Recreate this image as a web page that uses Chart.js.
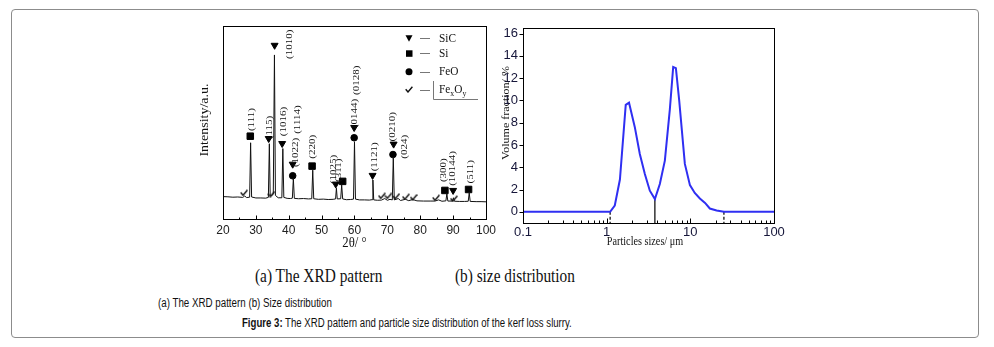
<!DOCTYPE html>
<html>
<head>
<meta charset="utf-8">
<script src="https://cdn.jsdelivr.net/npm/chart.js@4.4.1/dist/chart.umd.min.js"></script>
<style>
html, body { margin: 0; padding: 0; background: #fff; }
body { width: 994px; height: 347px; position: relative; overflow: hidden; }
#frame { position: absolute; left: 11px; top: 9px; width: 966px; height: 327px; border: 1px solid #8c8c8c; border-radius: 4px; }
canvas { position: absolute; }
#xrd { left: 190px; top: 10px; }
#psd { left: 495px; top: 10px; }
.cap { position: absolute; white-space: nowrap; line-height: 1; transform-origin: 0 50%; color: #111; }
.serif { font-family: 'Liberation Serif', serif; font-size: 19px; }
.sans { font-family: 'Liberation Sans', Arial, sans-serif; font-size: 12px; }
</style>
</head>
<body>
<div id="frame"></div>
<canvas id="xrd" width="310" height="240"></canvas>
<canvas id="psd" width="295" height="240"></canvas>
<div class="cap serif" id="capA">(a) The XRD pattern</div>
<div class="cap serif" id="capB">(b) size distribution</div>
<div class="cap sans" id="capSub">(a) The XRD pattern (b) Size distribution</div>
<div class="cap sans" id="capFig"><b>Figure 3:</b> The XRD pattern and particle size distribution of the kerf loss slurry.</div>

<script>
// ---- (a) XRD pattern ----
const twoTheta = [20, 21.5, 23, 24.5, 26, 26.6, 27.2, 28.1, 28.4, 28.7, 30, 31.5, 33, 33.8, 34.1, 34.35, 34.8, 35.3, 35.65, 35.95,
  36.8, 37.9, 38.2, 38.5, 39.5, 40.5, 41.1, 41.4, 41.7, 43, 44.5, 46, 47.0, 47.3, 47.6, 49, 50.5, 52, 53.5, 54.25, 54.5, 54.75,
  55.8, 56.1, 56.4, 57.5, 58.8, 59.7, 60.0, 60.3, 61.5, 63, 64.5, 65.35, 65.6, 65.85, 67, 68.2, 69.2, 70, 70.8, 71.5, 71.8, 72.1,
  73.3, 74, 75.5, 76.5, 77.7, 79, 81, 83, 84.5, 85.6, 86.6, 87.8, 88.1, 88.4, 89.8, 90.1, 90.4, 92, 93.5, 94.6, 94.9, 95.2, 97, 98.5, 100];
const intensity = [11.6, 11.5, 11.3, 11.4, 11.2, 11.9, 11.1, 11.3, 39.5, 11.4, 10.9, 10.9, 10.8, 11.2, 39, 12.4, 12.0, 13.0, 85, 12.2,
  11.0, 11.0, 36.5, 11.2, 10.7, 10.6, 10.8, 21, 10.7, 10.5, 10.6, 10.4, 10.5, 25.3, 10.5, 10.2, 10.3, 10.1, 10.2, 10.4, 16, 10.4,
  10.5, 17.6, 10.4, 10.0, 10.1, 10.3, 40, 10.3, 9.9, 9.9, 9.8, 10.0, 20.2, 9.9, 9.7, 9.8, 10.6, 9.7, 10.2, 9.9, 32.2, 9.9,
  10.6, 9.6, 10.2, 9.5, 10.1, 9.4, 9.3, 9.3, 9.3, 9.9, 9.2, 9.4, 13, 9.3, 9.3, 11, 9.2, 9.1, 9.1, 9.2, 13.5, 9.1, 9.0, 9.0, 8.9];

const sicX = [33.9, 35.7, 38.0, 41.2, 54.3, 59.9, 65.5, 71.9, 90.0];
const sicY = [41.7, 90, 39.1, 28.4, 18.1, 47.4, 22.6, 38.8, 14.8];
const siX = [28.3, 47.1, 56.4, 87.5, 94.7];
const siY = [42.9, 27.4, 19.5, 14.8, 15.3];
const feoX = [41.2, 59.9, 71.7];
const feoY = [22.4, 42.1, 33.4];
const fexoyX = [26.4, 34.7, 68.3, 70.3, 72.7, 75.6, 78.0, 84.8, 90.2];
const fexoyY = [13.6, 12.9, 12.0, 12.0, 11.8, 11.5, 11.3, 11.0, 10.5];

const peakLabelText = ['(111)', '(115)', '(1010)', '(1016)', '(1022)', '(1114)', '(220)', '(1025)', '(311)',
  '(0144)', '(0128)', '(1121)', '(0210)', '(024)', '(300)', '(10144)', '(511)'];
const peakLabelX = [28.6, 34.3, 40.3, 38.6, 42.0, 42.8, 47.4, 53.8, 55.3, 60.1, 60.7, 66.0, 71.5, 75.4, 87.0, 90.0, 95.3];
const peakLabelY = [51.5, 47.4, 90.5, 50.5, 34.5, 51.5, 37.4, 25.7, 25.3, 54.7, 71.9, 32.2, 47.8, 37.4, 25.3, 26.2, 24.5];

const xrdMajorTicks = [20, 30, 40, 50, 60, 70, 80, 90, 100];
const xrdMinorTicks = [25, 35, 45, 55, 65, 75, 85, 95];
const phaseNames = ['SiC', 'Si', 'FeO', 'FexOy'];

// ---- (b) size distribution ----
const psdSize = [0.1, 1.1, 1.25, 1.44, 1.69, 1.85, 2.17, 2.49, 2.86, 3.28, 3.77, 4.32, 4.96, 5.69, 6.24, 6.72, 7.36,
  8.6, 9.89, 11.3, 13.0, 15.0, 17.1, 20.6, 25.2, 100];
const psdVolume = [0, 0, 0.57, 2.9, 9.6, 9.8, 7.6, 5.2, 3.4, 1.9, 1.15, 2.5, 4.6, 9.2, 13.0, 12.9, 10.0,
  4.3, 2.4, 1.7, 1.2, 0.8, 0.3, 0.12, 0, 0];
const dropX = [1.1, 3.77, 25.2];
const dropTop = [0, 1.15, 0];
const dropDashed = [true, false, true];
const psdXTicks = [0.1, 1, 10, 100];
const psdMinorTicks = [0.2, 0.3, 0.4, 0.5, 0.6, 0.7, 0.8, 0.9, 2, 3, 4, 5, 6, 7, 8, 9, 20, 30, 40, 50, 60, 70, 80, 90];
const psdYTicks = [0, 2, 4, 6, 8, 10, 12, 14, 16];

const SERIF = "'Liberation Serif', serif";
const SANS = "'Liberation Sans', Arial, sans-serif";

function squeezedText(ctx, text, x, y, rot, size, sx, align) {
    ctx.save();
    ctx.translate(x, y);
    ctx.scale(sx, 1);
    ctx.rotate(rot);
    ctx.font = size + 'px ' + SERIF;
    ctx.fillStyle = '#111';
    ctx.textAlign = align || 'center';
    ctx.textBaseline = 'middle';
    ctx.fillText(text, 0, 0);
    ctx.restore();
}

function checkMark() {
    const c = document.createElement('canvas');
    c.width = 8; c.height = 7;
    const g = c.getContext('2d');
    g.strokeStyle = '#111';
    g.lineWidth = 1.4;
    g.beginPath();
    g.moveTo(0.7, 3.2); g.lineTo(3, 6); g.lineTo(7.4, 0.8);
    g.stroke();
    return c;
}
const checkImg = checkMark();

// box, inner ticks, outer y ticks and axis titles
const axisDecor = {
    id: 'axisDecor',
    afterDatasetsDraw(chart, args, o) {
        const { ctx, chartArea: a, scales } = chart;
        ctx.save();
        ctx.strokeStyle = '#000';
        ctx.lineWidth = 1;
        const L = Math.round(a.left) + 0.5, T = Math.round(a.top) + 0.5;
        const R = Math.round(a.right) + 0.5, B = Math.round(a.bottom) + 0.5;
        ctx.strokeRect(L, T, R - L, B - T);
        ctx.beginPath();
        o.xMajor.forEach(v => {
            const x = Math.round(scales.x.getPixelForValue(v)) + 0.5;
            ctx.moveTo(x, B); ctx.lineTo(x, B - o.majorLen);
        });
        o.xMinor.forEach(v => {
            const x = Math.round(scales.x.getPixelForValue(v)) + 0.5;
            ctx.moveTo(x, B); ctx.lineTo(x, B - o.minorLen);
        });
        (o.yOuter || []).forEach(v => {
            const y = Math.round(scales.y.getPixelForValue(v)) + 0.5;
            ctx.moveTo(L, y); ctx.lineTo(L - 4, y);
        });
        ctx.stroke();
        ctx.restore();
        o.titles.forEach(t => {
            squeezedText(ctx, t.text, (a.left + a.right) / 2 * t.cx + a.left * (1 - t.cx) + t.dx,
                (a.top + a.bottom) / 2 + t.dy, t.rot, t.size, 0.85);
        });
    }
};

const peakLabels = {
    id: 'peakLabels',
    afterDatasetsDraw(chart) {
        const { ctx, scales } = chart;
        peakLabelText.forEach((t, i) => {
            squeezedText(ctx, t, scales.x.getPixelForValue(peakLabelX[i]), scales.y.getPixelForValue(peakLabelY[i]),
                -Math.PI / 2, 11, 0.8);
        });
    }
};

const phaseLegend = {
    id: 'phaseLegend',
    afterDatasetsDraw(chart) {
        const { ctx, chartArea: a } = chart;
        const mx = a.left + 186, rows = [12.3, 27.3, 45.7, 64];
        ctx.save();
        ctx.fillStyle = '#000';
        // triangle
        let y = a.top + rows[0];
        ctx.beginPath();
        ctx.moveTo(mx - 3.5, y - 3); ctx.lineTo(mx + 3.5, y - 3); ctx.lineTo(mx, y + 3.5); ctx.closePath(); ctx.fill();
        // square
        y = a.top + rows[1];
        ctx.fillRect(mx - 3, y - 3, 6.5, 6.5);
        // circle
        y = a.top + rows[2];
        ctx.beginPath(); ctx.arc(mx, y, 3.5, 0, Math.PI * 2); ctx.fill();
        // check
        y = a.top + rows[3];
        ctx.drawImage(checkImg, mx - 4, y - 4);
        ctx.strokeStyle = '#777';
        ctx.lineWidth = 1;
        ctx.beginPath();
        rows.forEach(r => {
            const yy = Math.round(a.top + r) + 0.5;
            ctx.moveTo(a.left + 197, yy); ctx.lineTo(a.left + 207, yy);
        });
        const bx = Math.round(a.left + 210) + 0.5, by = Math.round(a.top + 73) + 0.5;
        ctx.moveTo(bx, a.top + rows[3] - 9); ctx.lineTo(bx, by); ctx.lineTo(a.left + 255, by);
        ctx.stroke();
        ctx.restore();
        phaseNames.slice(0, 3).forEach((n, i) => squeezedText(ctx, n, a.left + 216, a.top + rows[i], 0, 13, 0.87, 'left'));
        // Fe_xO_y with subscripts
        const ty = a.top + rows[3];
        ctx.save();
        ctx.translate(a.left + 216, ty);
        ctx.scale(0.87, 1);
        ctx.fillStyle = '#111';
        ctx.textBaseline = 'middle';
        ctx.font = '13px ' + SERIF;
        ctx.fillText('Fe', 0, 0);
        let w = ctx.measureText('Fe').width;
        ctx.font = '9px ' + SERIF;
        ctx.fillText('x', w, 4);
        w += ctx.measureText('x').width;
        ctx.font = '13px ' + SERIF;
        ctx.fillText('O', w, 0);
        w += ctx.measureText('O').width;
        ctx.font = '9px ' + SERIF;
        ctx.fillText('y', w, 4);
        ctx.restore();
    }
};

const pts = (xs, ys) => xs.map((x, i) => ({ x: x, y: ys[i] }));

const markerSet = (xs, ys, style, r, rot) => ({
    data: pts(xs, ys), showLine: false, pointStyle: style, pointRadius: r, pointRotation: rot || 0,
    backgroundColor: '#000', borderColor: '#000', borderWidth: 1
});

new Chart(document.getElementById('xrd'), {
    type: 'line',
    data: {
        datasets: [
            { data: pts(twoTheta, intensity), borderColor: '#111', borderWidth: 1, pointRadius: 0, tension: 0 },
            markerSet(sicX, sicY, 'triangle', 4, 180),
            markerSet(siX, siY, 'rect', 4.6),
            markerSet(feoX, feoY, 'circle', 3.3),
            { data: pts(fexoyX, fexoyY), showLine: false, pointStyle: checkImg, pointRadius: 4 }
        ]
    },
    options: {
        responsive: false,
        animation: false,
        devicePixelRatio: 1,
        layout: { padding: { left: 0, right: 13, top: 16, bottom: 0 } },
        plugins: {
            legend: { display: false },
            tooltip: { enabled: false },
            axisDecor: {
                xMajor: xrdMajorTicks, xMinor: xrdMinorTicks, majorLen: 4, minorLen: 2,
                titles: [
                    { text: '2θ/ °', cx: 1, dx: 0, dy: 120.5, rot: 0, size: 15 },
                    { text: 'Intensity/a.u.', cx: 0, dx: -18, dy: -2.5, rot: -Math.PI / 2, size: 14 }
                ]
            }
        },
        scales: {
            x: {
                type: 'linear', min: 20, max: 100,
                grid: { display: false, drawTicks: false }, border: { display: false },
                ticks: { stepSize: 10, autoSkip: false, maxRotation: 0, padding: 4, color: '#222', font: { family: SANS, size: 12 } },
                afterFit: s => { s.height = 31; }
            },
            y: {
                min: 0, max: 100,
                grid: { display: false, drawTicks: false }, border: { display: false },
                ticks: { display: false },
                afterFit: s => { s.width = 33; }
            }
        }
    },
    plugins: [axisDecor, peakLabels, phaseLegend]
});

const psdSets = [
    { data: pts(psdSize, psdVolume), borderColor: '#2f2ff2', borderWidth: 2, pointRadius: 0, tension: 0 }
];
dropX.forEach((x, i) => {
    psdSets.push({
        data: [{ x: x, y: dropTop[i] }, { x: x, y: -1 }],
        borderColor: '#000', borderWidth: 1.2, pointRadius: 0,
        borderDash: dropDashed[i] ? [3, 2] : []
    });
});

new Chart(document.getElementById('psd'), {
    type: 'line',
    data: { datasets: psdSets },
    options: {
        responsive: false,
        animation: false,
        devicePixelRatio: 1,
        layout: { padding: { left: 0, right: 16, top: 18, bottom: 0 } },
        plugins: {
            legend: { display: false },
            tooltip: { enabled: false },
            axisDecor: {
                xMajor: psdXTicks, xMinor: psdMinorTicks, majorLen: 5, minorLen: 3, yOuter: psdYTicks,
                titles: [
                    { text: 'Particles sizes/ μm', cx: 1, dx: -3.5, dy: 116.2, rot: 0, size: 12 },
                    { text: 'Volume fraction/ %', cx: 0, dx: -17, dy: -12.5, rot: -Math.PI / 2, size: 12 }
                ]
            }
        },
        scales: {
            x: {
                type: 'logarithmic', min: 0.1, max: 100,
                grid: { display: false, drawTicks: false }, border: { display: false },
                afterBuildTicks: s => { s.ticks = psdXTicks.map(v => ({ value: v })); },
                ticks: { autoSkip: false, maxRotation: 0, padding: 2, color: '#16163a',
                    font: { family: SANS, size: 13 }, callback: v => String(v) },
                afterFit: s => { s.height = 27; }
            },
            y: {
                min: -1, max: 16.5,
                grid: { display: false, drawTicks: false }, border: { display: false },
                afterBuildTicks: s => { s.ticks = psdYTicks.map(v => ({ value: v })); },
                ticks: { padding: 5, color: '#16163a', font: { family: SANS, size: 13 } },
                afterFit: s => { s.width = 28; }
            }
        }
    },
    plugins: [axisDecor]
});

// captions: fit each to the width it takes in the figure
function fitCaption(id, left, centerY, width) {
    const el = document.getElementById(id);
    const w = el.offsetWidth, h = el.offsetHeight;
    el.style.left = left + 'px';
    el.style.top = (centerY - h / 2) + 'px';
    el.style.transform = 'scaleX(' + (width / w) + ')';
}
fitCaption('capA', 255, 275, 127);
fitCaption('capB', 455, 275, 120);
fitCaption('capSub', 158, 302.5, 174);
fitCaption('capFig', 242, 322.5, 330);
</script>
</body>
</html>
